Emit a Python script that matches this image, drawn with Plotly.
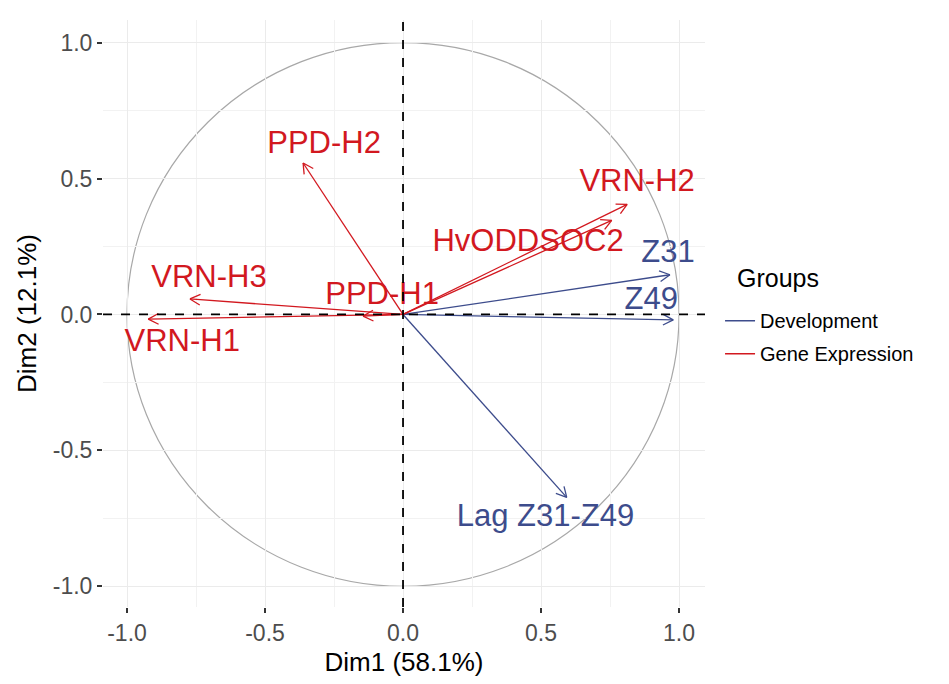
import math
import plotly.graph_objects as go

# ---- data ----
labels = ["PPD-H2", "VRN-H2", "HvODDSOC2", "VRN-H3", "VRN-H1", "PPD-H1",
          "Z31", "Z49", "Lag Z31-Z49"]
groups = ["Gene Expression"] * 6 + ["Development"] * 3
dim1 = [-0.362, 0.812, 0.756, -0.772, -0.923, -0.145, 0.967, 0.979, 0.593]
dim2 = [0.557, 0.405, 0.346, 0.057, -0.017, -0.006, 0.146, -0.020, -0.673]
label_x = [-0.286, 0.848, 0.453, -0.703, -0.800, -0.076, 0.960, 0.899, 0.516]
label_y = [0.622, 0.481, 0.263, 0.129, -0.107, 0.067, 0.220, 0.049, -0.750]
tick_vals = [-1.0, -0.5, 0.0, 0.5, 1.0]
tick_text = ["-1.0", "-0.5", "0.0", "0.5", "1.0"]
group_order = ["Development", "Gene Expression"]
colors = {"Development": "#3D4C8C", "Gene Expression": "#D2181F"}

FONT = "Liberation Sans, Arial, sans-serif"

fig = go.Figure()

head_len = 0.042
head_ang = math.radians(28)

for g in group_order:
    xs, ys = [], []
    for x, y, gg in zip(dim1, dim2, groups):
        if gg != g:
            continue
        xs += [0, x, None]
        ys += [0, y, None]
        a = math.atan2(y, x)
        for s in (1, -1):
            xs += [x - head_len * math.cos(a + s * head_ang), x, None]
            ys += [y - head_len * math.sin(a + s * head_ang), y, None]
    fig.add_trace(go.Scatter(x=xs, y=ys, mode="lines",
                             line=dict(color=colors[g], width=1.3),
                             showlegend=False, hoverinfo="skip"))

for g in group_order:
    lx = [x for x, gg in zip(label_x, groups) if gg == g]
    ly = [y for y, gg in zip(label_y, groups) if gg == g]
    tx = [t for t, gg in zip(labels, groups) if gg == g]
    fig.add_trace(go.Scatter(x=lx, y=ly, text=tx, mode="text",
                             textposition="middle center",
                             textfont=dict(family=FONT, size=31, color=colors[g]),
                             showlegend=False, hoverinfo="skip"))
    # legend key
    fig.add_trace(go.Scatter(x=[None], y=[None], mode="lines",
                             line=dict(color=colors[g], width=1.5),
                             name=g, legendgroup=g, showlegend=True))

shapes = [
    dict(type="circle", xref="x", yref="y", x0=-1, x1=1, y0=-1, y1=1,
         line=dict(color="#A8A8A8", width=1.2), layer="below"),
    dict(type="line", xref="x domain", yref="y", x0=0, x1=1, y0=0, y1=0,
         line=dict(color="black", width=1.8, dash="dash"), layer="above"),
    dict(type="line", xref="x", yref="y domain", x0=0, x1=0, y0=0, y1=1,
         line=dict(color="black", width=1.8, dash="dash"), layer="above"),
]

axis_common = dict(
    tickvals=tick_vals, ticktext=tick_text,
    showgrid=True, gridcolor="#EBEBEB", gridwidth=1.1,
    zeroline=False, showline=False,
    ticks="outside", ticklen=5, tickwidth=1.5, tickcolor="#333333",
    tickfont=dict(family=FONT, size=23, color="#4D4D4D"),
    minor=dict(tickvals=[-0.75, -0.25, 0.25, 0.75], showgrid=True,
               gridcolor="#F2F2F2", gridwidth=0.6, ticks=""),
)

fig.update_layout(
    width=949, height=684,
    margin=dict(l=103, r=244, t=20, b=69),
    paper_bgcolor="white", plot_bgcolor="white",
    shapes=shapes,
    xaxis=dict(range=[-1.087, 1.094],
               title=dict(text="Dim1 (58.1%)", standoff=8,
                          font=dict(family=FONT, size=26, color="black")),
               **axis_common),
    yaxis=dict(range=[-1.076, 1.083],
               title=dict(text="Dim2 (12.1%)", standoff=8,
                          font=dict(family=FONT, size=26, color="black")),
               **axis_common),
    legend=dict(x=1.025, y=0.521, xanchor="left", yanchor="top",
                font=dict(family=FONT, size=20, color="black"),
                bgcolor="rgba(0,0,0,0)", tracegroupgap=4,
                itemwidth=30),
    annotations=[dict(text="Groups", xref="paper", yref="paper",
                      x=1.05, y=0.56, xanchor="left", yanchor="middle",
                      showarrow=False,
                      font=dict(family=FONT, size=25, color="black"))],
    showlegend=True,
)

fig.write_html("out.html")
